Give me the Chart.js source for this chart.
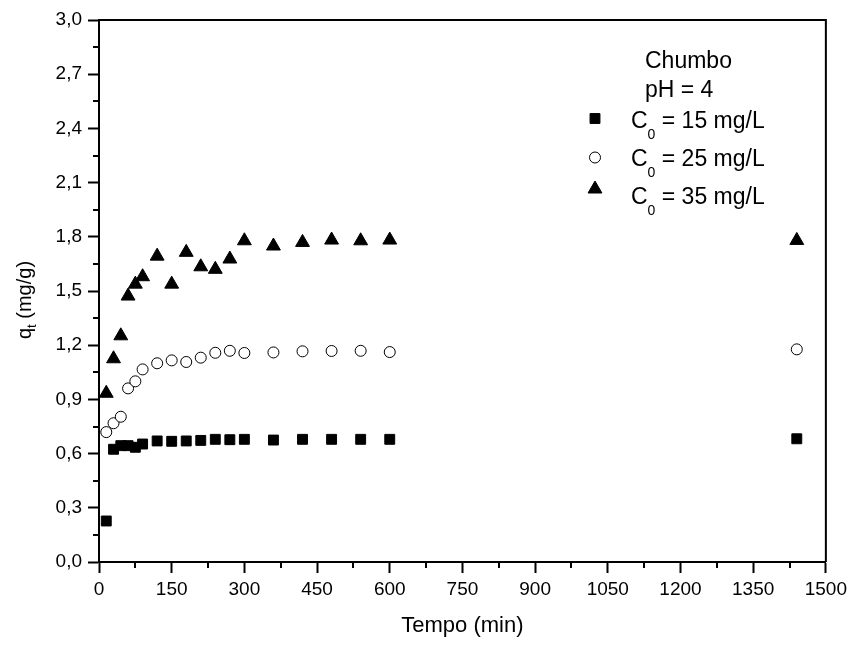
<!DOCTYPE html>
<html lang="pt">
  <head>
    <meta charset="UTF-8" />
    <title>Cinética de adsorção - Chumbo</title>
    <script src="https://cdn.jsdelivr.net/npm/chart.js"></script>
    <style>
      body {
        margin: 0;
        background: #ffffff;
        font-family: "Liberation Sans", Arial, sans-serif;
      }
      .chart-box {
        position: relative;
        width: 852px;
        height: 646px;
      }
    </style>
  </head>
  <body>
    <div class="chart-box">
      <canvas id="kineticsChart"></canvas>
    </div>

    <script>
      // tempo de contato (min)
      const tempo = [15, 30, 45, 60, 75, 90, 120, 150, 180, 210, 240, 270, 300, 360, 420, 480, 540, 600, 1440];

      // q_t (mg/g) para cada concentração inicial
      const qt15 = [0.227, 0.624, 0.644, 0.644, 0.635, 0.653, 0.670, 0.668, 0.670, 0.673, 0.679, 0.677, 0.679, 0.675, 0.679, 0.679, 0.679, 0.679, 0.682];
      const qt25 = [0.719, 0.768, 0.804, 0.961, 1.000, 1.066, 1.100, 1.116, 1.107, 1.131, 1.158, 1.169, 1.157, 1.160, 1.166, 1.168, 1.169, 1.162, 1.177];
      const qt35 = [0.934, 1.125, 1.252, 1.472, 1.538, 1.579, 1.693, 1.538, 1.714, 1.634, 1.620, 1.677, 1.778, 1.749, 1.769, 1.782, 1.778, 1.782, 1.780];

      const legendTitle = ["Chumbo", "pH = 4"];
      const legendConc = ["15", "25", "35"];

      const FONT = "'Liberation Sans', Arial, sans-serif";

      const toPoints = (ys) => tempo.map((t, i) => ({ x: t, y: ys[i] }));

      const series = [
        { data: qt15, style: "rect", fill: "#000000", radius: 7 },
        { data: qt25, style: "circle", fill: "#ffffff", radius: 5.5 },
        { data: qt35, style: "triangle", fill: "#000000", radius: 8 }
      ];

      // moldura superior/direita, ticks menores, título do eixo y e legenda
      const extras = {
        id: "extras",
        afterDraw(chart) {
          const { ctx, chartArea: a, scales: { x, y } } = chart;
          ctx.save();
          ctx.strokeStyle = "#000";
          ctx.lineWidth = 2;
          ctx.beginPath();
          ctx.moveTo(a.left, a.top);
          ctx.lineTo(a.right, a.top);
          ctx.lineTo(a.right, a.bottom);
          ctx.stroke();

          // ticks menores
          ctx.beginPath();
          for (let v = 75; v < 1500; v += 150) {
            const px = Math.round(x.getPixelForValue(v));
            ctx.moveTo(px, a.bottom);
            ctx.lineTo(px, a.bottom + 6);
          }
          for (let v = 0.15; v < 3; v += 0.3) {
            const py = Math.round(y.getPixelForValue(v));
            ctx.moveTo(a.left, py);
            ctx.lineTo(a.left - 6, py);
          }
          ctx.stroke();

          // título do eixo y: q_t (mg/g)
          ctx.fillStyle = "#000";
          ctx.textBaseline = "alphabetic";
          ctx.textAlign = "left";
          ctx.font = "20px " + FONT;
          const wq = ctx.measureText("q").width;
          const wr = ctx.measureText(" (mg/g)").width;
          ctx.font = "13px " + FONT;
          const wt = ctx.measureText("t").width;
          const total = wq + wt + wr;
          ctx.translate(31, (a.top + a.bottom) / 2 + 9 + total / 2);
          ctx.rotate(-Math.PI / 2);
          ctx.font = "20px " + FONT;
          ctx.fillText("q", 0, 0);
          ctx.font = "13px " + FONT;
          ctx.fillText("t", wq, 5);
          ctx.font = "20px " + FONT;
          ctx.fillText(" (mg/g)", wq + wt, 0);
          ctx.setTransform(1, 0, 0, 1, 0, 0);

          // legenda
          ctx.font = "23px " + FONT;
          ctx.fillText(legendTitle[0], 645, 68);
          ctx.fillText(legendTitle[1], 645, 97);
          const rowBase = [128, 166, 204];
          const markY = [118.5, 157.5, 189];
          series.forEach((s, i) => {
            ctx.fillStyle = s.fill;
            ctx.strokeStyle = "#000";
            ctx.lineWidth = 1;
            Chart.helpers.drawPoint(ctx, { pointStyle: s.style, radius: s.radius, borderWidth: 1, rotation: 0 }, 595, markY[i]);
            ctx.fillStyle = "#000";
            ctx.font = "23px " + FONT;
            ctx.fillText("C", 631, rowBase[i]);
            const wc = ctx.measureText("C").width;
            ctx.font = "14px " + FONT;
            ctx.fillText("0", 631 + wc, rowBase[i] + 11);
            const w0 = ctx.measureText("0").width;
            ctx.font = "23px " + FONT;
            ctx.fillText(" = " + legendConc[i] + " mg/L", 631 + wc + w0, rowBase[i]);
          });
          ctx.restore();
        }
      };

      new Chart(document.getElementById("kineticsChart"), {
        type: "scatter",
        data: {
          datasets: series.map((s, i) => ({
            label: "C0 = " + legendConc[i] + " mg/L",
            data: toPoints(s.data),
            pointStyle: s.style,
            pointRadius: s.radius,
            pointBackgroundColor: s.fill,
            pointBorderColor: "#000000",
            pointBorderWidth: 1,
            showLine: false
          }))
        },
        options: {
          responsive: true,
          maintainAspectRatio: false,
          animation: false,
          events: [],
          layout: { padding: { left: 0, right: 26, top: 20, bottom: 0 } },
          plugins: {
            legend: { display: false },
            tooltip: { enabled: false }
          },
          scales: {
            x: {
              type: "linear",
              min: 0,
              max: 1500,
              afterFit: (scale) => { scale.height = 84; },
              border: { display: true, color: "#000", width: 2 },
              grid: { drawOnChartArea: false, drawTicks: true, tickLength: 11, tickWidth: 2, color: "#000" },
              ticks: {
                stepSize: 150,
                color: "#000",
                padding: 5,
                font: { family: FONT, size: 19 },
                callback: (v) => String(v)
              },
              title: {
                display: true,
                text: "Tempo (min)",
                color: "#000",
                font: { family: FONT, size: 22 },
                padding: { top: 0, bottom: 7 }
              }
            },
            y: {
              type: "linear",
              min: 0,
              max: 3,
              afterFit: (scale) => { scale.width = 99; },
              border: { display: true, color: "#000", width: 2 },
              grid: { drawOnChartArea: false, drawTicks: true, tickLength: 11, tickWidth: 2, color: "#000" },
              ticks: {
                stepSize: 0.3,
                color: "#000",
                padding: 6,
                font: { family: FONT, size: 19 },
                callback: (v) => v.toFixed(1).replace(".", ",")
              }
            }
          }
        },
        plugins: [extras]
      });
    </script>
  </body>
</html>
